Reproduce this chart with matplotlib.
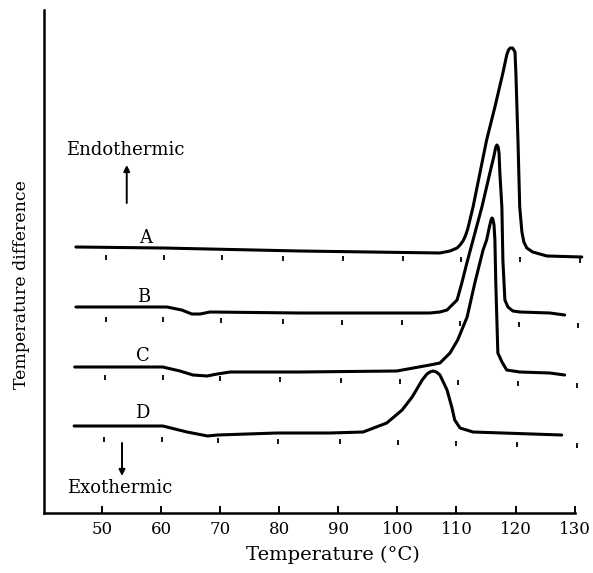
import matplotlib
matplotlib.use("Agg")
import matplotlib.pyplot as plt
import numpy as np

plt.rcParams["font.family"] = ["DejaVu Serif"]

# DTA traces: temperature (deg C) and temperature difference (arbitrary units)
temp_a = [45.6, 60.3, 83.5, 107.2, 108.9, 110.1, 110.6, 111.1, 111.5, 111.9, 112.8, 115.1, 116.5,
          117.85, 118.5, 118.8, 119.1, 119.5, 119.9, 120.05, 120.4, 120.7, 121.07, 121.4, 121.9,
          122.9, 125.3, 131.2]
diff_a = [266, 265, 262, 260, 262, 265, 268, 272, 277, 284, 306, 373, 406,
          440, 458, 463, 465, 465, 461, 440, 373, 306, 281, 271, 265,
          261, 257, 256]

temp_b = [45.6, 61.0, 63.5, 65.2, 66.6, 68.3, 83.5, 105.5, 107.2, 108.4, 110.1, 110.9, 111.8,
          112.8, 114.3, 115.65, 116.3, 116.65, 116.84, 117.05, 117.2, 117.34, 117.68, 117.85,
          118.19, 118.7, 119.54, 120.73, 125.8, 128.3]
diff_b = [206, 206, 203, 199, 199, 201, 200, 200, 201, 203, 213, 230, 251,
          273, 306, 340, 356, 366, 368, 366, 360, 340, 306, 253,
          213, 206, 202, 201, 200, 198]

temp_c = [45.4, 60.3, 63.2, 65.4, 67.8, 69.5, 71.7, 83.5, 99.9, 105.5, 107.2, 108.9, 110.2,
          111.8, 113.1, 114.5, 115.1, 115.6, 115.85, 116.0, 116.15, 116.35, 116.5, 116.65,
          116.85, 117.0, 117.7, 118.5, 120.7, 125.8, 128.3]
diff_c = [146, 146, 142, 138, 137, 139, 141, 141, 142, 148, 150, 160, 173,
          196, 230, 263, 273, 287, 293, 295, 294, 288, 273, 230,
          190, 160, 151, 143, 141, 140, 138]

temp_d = [45.3, 60.3, 64.4, 67.9, 69.6, 79.6, 88.6, 94.2, 98.2, 100.8, 102.5, 104.2, 105.0,
          105.5, 106.0, 106.6, 107.2, 108.4, 109.2, 109.7, 110.6, 112.8, 127.8]
diff_d = [87, 87, 81, 77, 78, 80, 80, 81, 90, 103, 116, 133, 139,
          141, 142, 141, 138, 123, 106, 93, 85, 81, 78]

curve_labels = ["A", "B", "C", "D"]

# temperature marks printed under each trace
marks_a = [50.7, 60.5, 70.3, 80.6, 90.8, 101.0, 110.7, 120.7, 130.9]
marks_b = [50.7, 60.3, 70.1, 80.6, 90.6, 100.8, 110.6, 120.6, 130.5]
marks_c = [50.5, 60.3, 70.0, 80.1, 90.4, 100.4, 110.2, 120.4, 130.4]
marks_d = [50.3, 60.2, 69.6, 79.8, 90.3, 100.1, 109.9, 120.2, 130.4]

x_ticks = [50, 60, 70, 80, 90, 100, 110, 120, 130]

W, H = 593, 573
fig = plt.figure(figsize=(W / 100, H / 100), dpi=100)
ax = fig.add_axes([44 / W, 60 / H, 542.5 / W, 503 / H])
ax.set_xlim(40.2, 132.0)
ax.set_ylim(0, 503)

lw = 2.2
curves = [(temp_a, diff_a), (temp_b, diff_b), (temp_c, diff_c), (temp_d, diff_d)]
for t, d in curves:
    ax.plot(t, d, color="black", lw=lw, solid_joinstyle="round", solid_capstyle="round")

# mark rows: (marks, y at left, y at right)
mark_rows = [(marks_a, 256, 253), (marks_b, 194, 188), (marks_c, 136, 128), (marks_d, 74, 68)]
for marks, y0, y1 in mark_rows:
    m = np.array(marks)
    ys = y0 + (y1 - y0) * (m - m[0]) / (m[-1] - m[0])
    ax.vlines(m, ys - 2.5, ys + 2.5, color="black", lw=1.3)

# trace labels
label_pos = [(57.4, 275), (57.1, 216), (56.9, 157), (56.8, 100)]
for lab, (lx, ly) in zip(curve_labels, label_pos):
    ax.text(lx, ly, lab, fontsize=13, ha="center", va="center")

# direction indicators
ax.text(53.9, 363, "Endothermic", fontsize=13, ha="center", va="center")
ax.annotate("", xy=(54.2, 348), xytext=(54.2, 310),
            arrowprops=dict(arrowstyle="-|>", color="black", lw=1.4,
                            mutation_scale=9, shrinkA=0, shrinkB=0))
ax.text(53.0, 25, "Exothermic", fontsize=13, ha="center", va="center")
ax.annotate("", xy=(53.4, 37), xytext=(53.4, 70),
            arrowprops=dict(arrowstyle="-|>", color="black", lw=1.4,
                            mutation_scale=9, shrinkA=0, shrinkB=0))

# axes styling
for s in ["top", "right"]:
    ax.spines[s].set_visible(False)
ax.spines["left"].set_linewidth(1.8)
ax.spines["bottom"].set_linewidth(1.8)
ax.spines["bottom"].set_bounds(40.2, 130)
ax.set_xticks(x_ticks)
ax.set_xticklabels([str(v) for v in x_ticks])
ax.tick_params(axis="x", direction="in", length=5, width=1.4, labelsize=12, pad=6)
ax.set_yticks([])

fig.text(333 / W, 1 - 555 / H, "Temperature (\u00b0C)", fontsize=14, ha="center", va="center")
fig.text(22 / W, 1 - 285 / H, "Temperature difference", fontsize=12.5, ha="center",
         va="center", rotation=90)

fig.savefig("out.png", dpi=100)
